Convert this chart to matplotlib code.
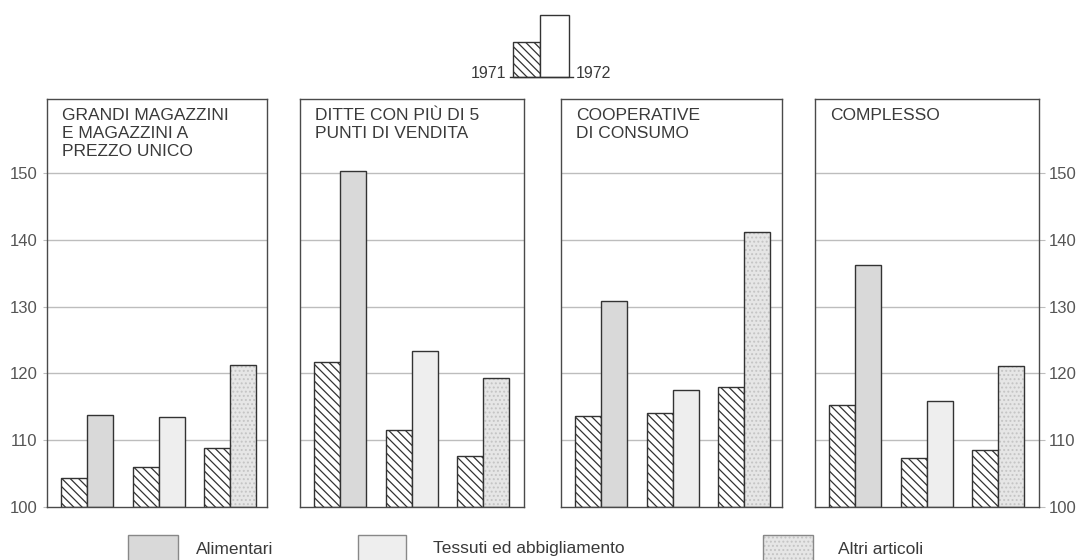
import matplotlib
matplotlib.use('Agg')
import matplotlib.pyplot as plt
from matplotlib.patches import Rectangle
import numpy as np

plt.rcParams['font.family'] = ['Liberation Sans', 'DejaVu Sans']
plt.rcParams['hatch.linewidth'] = 0.9

# ---------------- data ----------------
panel_titles = ['GRANDI MAGAZZINI\nE MAGAZZINI A\nPREZZO UNICO',
                'DITTE CON PIÙ DI 5\nPUNTI DI VENDITA',
                'COOPERATIVE\nDI CONSUMO',
                'COMPLESSO']
categories = ['Alimentari', 'Tessuti ed abbigliamento', 'Altri articoli']
years = ['1971', '1972']
values_1971 = [[104.3, 106.0, 108.9],
               [121.7, 111.5, 107.6],
               [113.6, 114.1, 118.0],
               [115.3, 107.4, 108.6]]
values_1972 = [[113.7, 113.5, 121.2],
               [150.3, 123.3, 119.3],
               [130.9, 117.5, 141.2],
               [136.2, 115.9, 121.1]]
yticks = [100, 110, 120, 130, 140, 150]
ytick_labels = ['100', '110', '120', '130', '140', '150']

# ---------------- style ----------------
W, H = 1078, 560
TXT = '#3a3a3a'
EDGE = '#333333'
FRAME = '#4a4a4a'
GRID = '#bdbdbd'
HATCH = '\\\\\\\\'
cat_colors = ['#d9d9d9', '#eeeeee', '#e6e6e6']
stipple = [None, None, '#c4c4c4']

fig = plt.figure(figsize=(W / 100, H / 100), dpi=100)
fig.patch.set_facecolor('white')

panel_px = [(47, 267), (300, 524), (561, 782), (815, 1039)]
top_px, bot_px = 99, 507

def fig_rect(x0, x1, ytop, ybot):
    return [x0 / W, 1 - ybot / H, (x1 - x0) / W, (ybot - ytop) / H]

ylim = (100, 100 + (bot_px - top_px) / 6.68)
bw = 0.364
x = np.arange(len(categories))

for i, (x0, x1) in enumerate(panel_px):
    ax = fig.add_axes(fig_rect(x0, x1, top_px, bot_px))
    ax.set_facecolor('white')
    ax.set_ylim(*ylim)
    width_units = (x1 - x0) / 71.5
    ax.set_xlim(-0.56, -0.56 + width_units)
    for t in yticks[1:]:
        ax.axhline(t, color=GRID, lw=1.0, zorder=0.5)
    # 1971 hatched bars
    ax.bar(x - bw / 2, np.array(values_1971[i]) - 100, bw, bottom=100,
           color='white', edgecolor=EDGE, hatch=HATCH, lw=1.0, zorder=2)
    # 1972 bars
    v72 = np.array(values_1972[i]) - 100
    for j in range(len(categories)):
        if stipple[j]:
            ax.bar(x[j] + bw / 2, v72[j], bw, bottom=100, color=cat_colors[j],
                   edgecolor=stipple[j], hatch='....', lw=0, zorder=2)
            ax.bar(x[j] + bw / 2, v72[j], bw, bottom=100, fill=False,
                   edgecolor=EDGE, lw=1.0, zorder=2.1)
        else:
            ax.bar(x[j] + bw / 2, v72[j], bw, bottom=100, color=cat_colors[j],
                   edgecolor=EDGE, lw=1.0, zorder=2)
    for s in ax.spines.values():
        s.set_color(FRAME)
        s.set_linewidth(1.0)
    ax.set_xticks([])
    ax.set_yticks(yticks)
    if i == 0:
        ax.set_yticklabels(ytick_labels)
        ax.tick_params(axis='y', length=3, color=GRID, labelsize=12,
                       labelcolor='#555555', pad=4)
    elif i == 3:
        ax.yaxis.tick_right()
        ax.set_yticklabels(ytick_labels)
        ax.tick_params(axis='y', length=4, color=GRID, labelsize=12,
                       labelcolor='#555555', pad=3)
    else:
        ax.tick_params(axis='y', length=0, labelleft=False)
    ax.text(15 / (x1 - x0), 0.978, panel_titles[i], transform=ax.transAxes,
            ha='left', va='top', fontsize=12.5, color=TXT, linespacing=1.27)

# ---------------- legends (overlay in pixel coords) ----------------
lg = fig.add_axes([0, 0, 1, 1])
lg.set_xlim(0, W)
lg.set_ylim(H, 0)
lg.axis('off')
lg.patch.set_alpha(0)

# year legend at the top
lg.add_patch(Rectangle((513, 42), 27, 35, facecolor='white', edgecolor=EDGE,
                       hatch=HATCH, lw=1.0))
lg.add_patch(Rectangle((540, 15), 29, 62, facecolor='white', edgecolor=EDGE, lw=1.0))
lg.plot([510, 573], [77, 77], color=EDGE, lw=1.0)
lg.text(506, 73, years[0], ha='right', va='center', fontsize=11.5, color=TXT)
lg.text(576, 73, years[1], ha='left', va='center', fontsize=11.5, color=TXT)

# category legend at the bottom
sq_x = [128, 358, 763]
sq_w = [50, 48, 50]
txt_x = [196, 433, 838]
for j, c in enumerate(categories):
    if stipple[j]:
        lg.add_patch(Rectangle((sq_x[j], 535), sq_w[j], 40, facecolor=cat_colors[j],
                               edgecolor=stipple[j], hatch='....', lw=0))
        lg.add_patch(Rectangle((sq_x[j], 535), sq_w[j], 40, fill=False,
                               edgecolor='#888888', lw=1.0))
    else:
        lg.add_patch(Rectangle((sq_x[j], 535), sq_w[j], 40, facecolor=cat_colors[j],
                               edgecolor='#888888', lw=1.0))
    lg.text(txt_x[j], 549, c, ha='left', va='center', fontsize=12.5, color=TXT)

fig.savefig('out.png', dpi=100, facecolor='white')
